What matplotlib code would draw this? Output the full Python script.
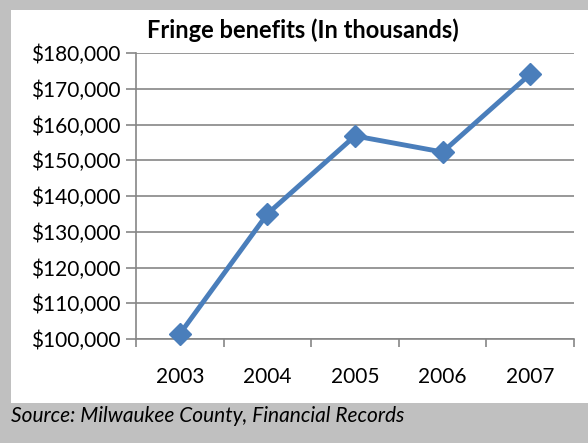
import matplotlib.pyplot as plt
from matplotlib.patches import Rectangle
from matplotlib.ticker import FuncFormatter

years = ['2003', '2004', '2005', '2006', '2007']
benefits = [101400, 135000, 156800, 152300, 174100]

plt.rcParams['font.family'] = ['Lato', 'DejaVu Sans']

fig = plt.figure(figsize=(5.88, 4.43), dpi=100, facecolor='#c0c0c0')
fig.patches.append(Rectangle((11 / 588, 1 - 403 / 443), 1, 393 / 443,
                             transform=fig.transFigure, facecolor='white',
                             edgecolor='none', zorder=-5))

ax = fig.add_axes([136 / 588, 1 - 339 / 443, 438 / 588, 286 / 443])
ax.set_facecolor('white')
x = range(len(years))
ax.plot(x, benefits, color='#4a7ebb', lw=3.5, marker='D', markersize=11,
        clip_on=False, zorder=3)

ax.set_xlim(-0.5, len(years) - 0.5)
ax.set_ylim(100000, 180000)
ax.set_yticks(range(100000, 180001, 10000))
ax.yaxis.set_major_formatter(FuncFormatter(lambda v, p: f'${v:,.0f}'))
ax.set_xticks(x)
ax.set_xticklabels(years)
ax.set_xticks([i - 0.5 for i in range(len(years) + 1)], minor=True)
ax.tick_params(axis='x', which='major', length=0, pad=20, labelsize=15)
ax.tick_params(axis='x', which='minor', length=6, color='#868686', width=1.2)
ax.tick_params(axis='y', length=7, color='#868686', width=1.2, labelsize=15, pad=4)
ax.grid(axis='y', color='#868686', lw=1.2)
ax.set_axisbelow(True)
for s in ['top', 'right']:
    ax.spines[s].set_visible(False)
for s in ['left', 'bottom']:
    ax.spines[s].set_color('#868686')
    ax.spines[s].set_linewidth(1.2)

fig.text(303 / 588, 1 - 30 / 443, 'Fringe benefits (In thousands)',
         ha='center', va='center', fontsize=17, fontweight='bold')
fig.text(11 / 588, 1 - 416 / 443, 'Source: Milwaukee County, Financial Records',
         ha='left', va='center', fontsize=15, style='italic')

fig.savefig('out.png', dpi=100, facecolor=fig.get_facecolor())
